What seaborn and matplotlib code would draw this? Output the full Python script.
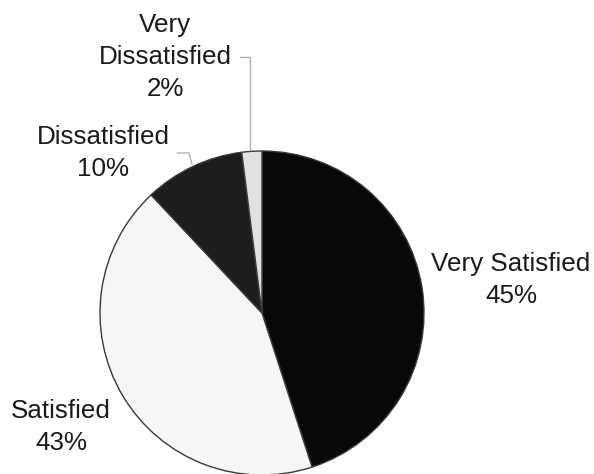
import numpy as np
import matplotlib
matplotlib.use("Agg")
import matplotlib.pyplot as plt
import seaborn as sns

# Survey satisfaction shares (percent)
categories = ["Very Satisfied", "Satisfied", "Dissatisfied", "Very\nDissatisfied"]
shares = [45, 43, 10, 2]
slice_colors = ["#080808", "#f6f6f6", "#1d1d1d", "#e1e1e1"]

sns.set_theme(style="white")
plt.rcParams["font.family"] = ["Liberation Sans", "DejaVu Sans"]

W, H = 594, 474
fig = plt.figure(figsize=(W / 100, H / 100), dpi=100)
ax = fig.add_axes([0, 0, 1, 1])

cx, cy, r = 262, H - 313, 162
wedges, _ = ax.pie(
    shares,
    colors=slice_colors,
    startangle=90,
    counterclock=False,
    center=(cx, cy),
    radius=r,
    wedgeprops=dict(edgecolor="#3a3a3a", linewidth=1.0),
)
ax.set_xlim(0, W)
ax.set_ylim(0, H)
ax.set_aspect("equal")
ax.axis("off")

# label centres (x, y) in canvas units
label_pos = [(511, H - 280), (61, H - 427), (103, H - 153), (165, H - 57)]
font = dict(fontsize=18.7, color="#1a1a1a", ha="center", va="center",
            linespacing=1.4)

for wedge, name, val, (lx, ly) in zip(wedges, categories, shares, label_pos):
    ax.text(lx, ly, f"{name}\n{val}%", **font)

# leader lines for the two small slices
lead = dict(color="#b0b0b0", linewidth=1.0, solid_joinstyle="miter")
# Dissatisfied
w = wedges[2]
mid = np.deg2rad((w.theta1 + w.theta2) / 2)
ex, ey = cx + r * np.cos(mid), cy + r * np.sin(mid)
ax.plot([177, ex - 4, ex - 1], [H - 153, H - 153, ey + 2], **lead)
# Very Dissatisfied
w = wedges[3]
mid = np.deg2rad((w.theta1 + w.theta2) / 2)
ex, ey = cx + r * np.cos(mid), cy + r * np.sin(mid)
ax.plot([240, ex - 2, ex - 2], [H - 57, H - 57, ey + 1], **lead)

fig.savefig("out.png", dpi=100)
